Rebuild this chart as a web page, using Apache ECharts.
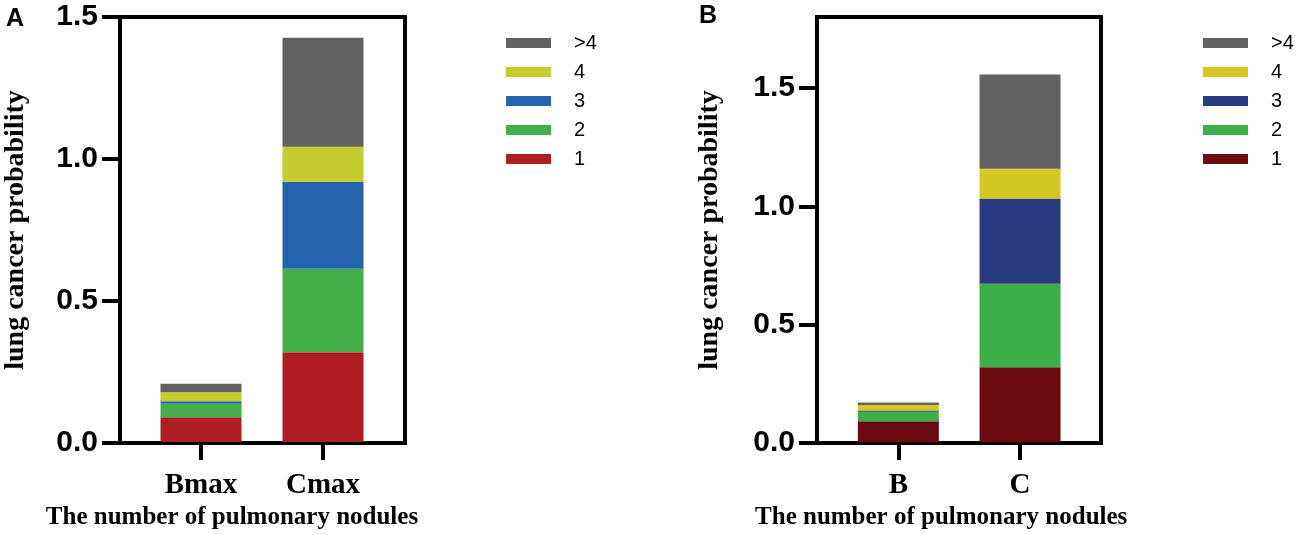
<!DOCTYPE html>
<html lang="en">
<head>
<meta charset="UTF-8">
<title>lung cancer probability</title>
<script src="https://cdn.jsdelivr.net/npm/echarts@6/dist/echarts.min.js"></script>
<style>
  html, body { margin: 0; padding: 0; background: #fff; }
  #wrap { position: relative; width: 1299px; height: 535px; }
  #chartA { position: absolute; left: 0; top: 0; width: 650px; height: 535px; }
  #chartB { position: absolute; left: 650px; top: 0; width: 649px; height: 535px; }
</style>
</head>
<body>
<div id="wrap">
  <div id="chartA"></div>
  <div id="chartB"></div>
</div>
<script>
// data
var catsA = ['Bmax', 'Cmax'];
var catsB = ['B', 'C'];
var groups = ['1', '2', '3', '4', '>4'];   // stacked bottom -> top
var legendOrder = ['>4', '4', '3', '2', '1'];

// panel A segments
var a1 = [0.088, 0.317];
var a2 = [0.047, 0.295];
var a3 = [0.009, 0.307];
var a4 = [0.032, 0.123];
var a5 = [0.030, 0.385];

// panel B segments
var b1 = [0.088, 0.317];
var b2 = [0.041, 0.353];
var b3 = [0.005, 0.362];
var b4 = [0.023, 0.125];
var b5 = [0.011, 0.400];

var yTicksA = [0, 0.5, 1.0, 1.5];
var yTicksB = [0, 0.5, 1.0, 1.5];

var colorsA = ['#ae1e24', '#43ae4a', '#2563ad', '#c4cc2e', '#616161'];
var colorsB = ['#6a0c10', '#3cae4a', '#293a7f', '#d5c823', '#626262'];

var serif = '"Liberation Serif", "Times New Roman", serif';
var sans = '"Liberation Sans", Arial, sans-serif';

function buildOption(p) {
  var series = p.values.map(function (vals, i) {
    return {
      name: groups[i],
      type: 'bar',
      stack: 'total',
      xAxisIndex: 1,
      yAxisIndex: 1,
      barWidth: 81,
      itemStyle: { color: p.colors[i] },
      data: vals
    };
  });

  return {
    animation: false,
    title: {
      text: p.letter,
      left: p.letterX,
      top: p.letterY,
      textStyle: { fontFamily: sans, fontWeight: 'bold', fontSize: 25, color: '#000' }
    },
    legend: {
      data: legendOrder,
      orient: 'vertical',
      left: p.legendX,
      top: 28,
      itemWidth: 45,
      itemHeight: 10,
      itemGap: 9,
      icon: 'rect',
      selectedMode: false,
      textStyle: { fontFamily: sans, fontSize: 20, color: '#000', padding: [0, 0, 0, 18] }
    },
    grid: [
      // outer frame with the y axis
      { left: p.frameX, top: 17, width: p.frameW, height: 426, show: true,
        borderColor: '#000', borderWidth: 4, backgroundColor: 'transparent' },
      // inner band for the categories
      { left: p.innerX, top: 17, width: p.innerW, height: 426 }
    ],
    xAxis: [
      { type: 'value', gridIndex: 0, show: false, min: 0, max: 1 },
      {
        type: 'category', gridIndex: 1, data: p.cats,
        name: 'The number of pulmonary nodules',
        nameLocation: 'middle',
        nameGap: 62,
        nameTextStyle: { fontFamily: serif, fontWeight: 'bold', fontSize: 25, color: '#000',
                         padding: p.namePad },
        axisLine: { show: false },
        axisTick: { show: true, alignWithLabel: true, length: 18, lineStyle: { color: '#000', width: 4 } },
        axisLabel: { margin: 29, fontFamily: serif, fontWeight: 'bold', fontSize: 29, color: '#000' }
      }
    ],
    yAxis: [
      {
        type: 'value', gridIndex: 0, min: 0, max: p.yMax,
        name: 'lung cancer probability',
        nameLocation: 'middle',
        nameGap: p.yNameGap,
        nameTextStyle: { fontFamily: serif, fontWeight: 'bold', fontSize: 28, color: '#000' },
        splitLine: { show: false },
        axisLine: { show: true, lineStyle: { color: '#000', width: 4 } },
        axisTick: { show: true, length: 18, customValues: p.yTicks, lineStyle: { color: '#000', width: 4 } },
        axisLabel: {
          margin: 22, customValues: p.yTicks,
          fontFamily: sans, fontWeight: 'bold', fontSize: 30, color: '#000',
          formatter: function (v) { return v.toFixed(1); }
        }
      },
      { type: 'value', gridIndex: 1, min: 0, max: p.yMax, show: false }
    ],
    series: series
  };
}

var chartA = echarts.init(document.getElementById('chartA'));
chartA.setOption(buildOption({
  letter: 'A', letterX: 1, letterY: 2,
  cats: catsA, values: [a1, a2, a3, a4, a5], colors: colorsA,
  yMax: 1.5, yTicks: yTicksA, yNameGap: 90,
  frameX: 120, frameW: 285, innerX: 140, innerW: 244,
  legendX: 501, namePad: [0, 60, 0, 0]
}));

var chartB = echarts.init(document.getElementById('chartB'));
chartB.setOption(buildOption({
  letter: 'B', letterX: 44, letterY: -1,
  cats: catsB, values: [b1, b2, b3, b4, b5], colors: colorsB,
  yMax: 1.8, yTicks: yTicksB, yNameGap: 93,
  frameX: 167, frameW: 284, innerX: 187.5, innerW: 243.4,
  legendX: 548, namePad: [0, 36, 0, 0]
}));
</script>
</body>
</html>
